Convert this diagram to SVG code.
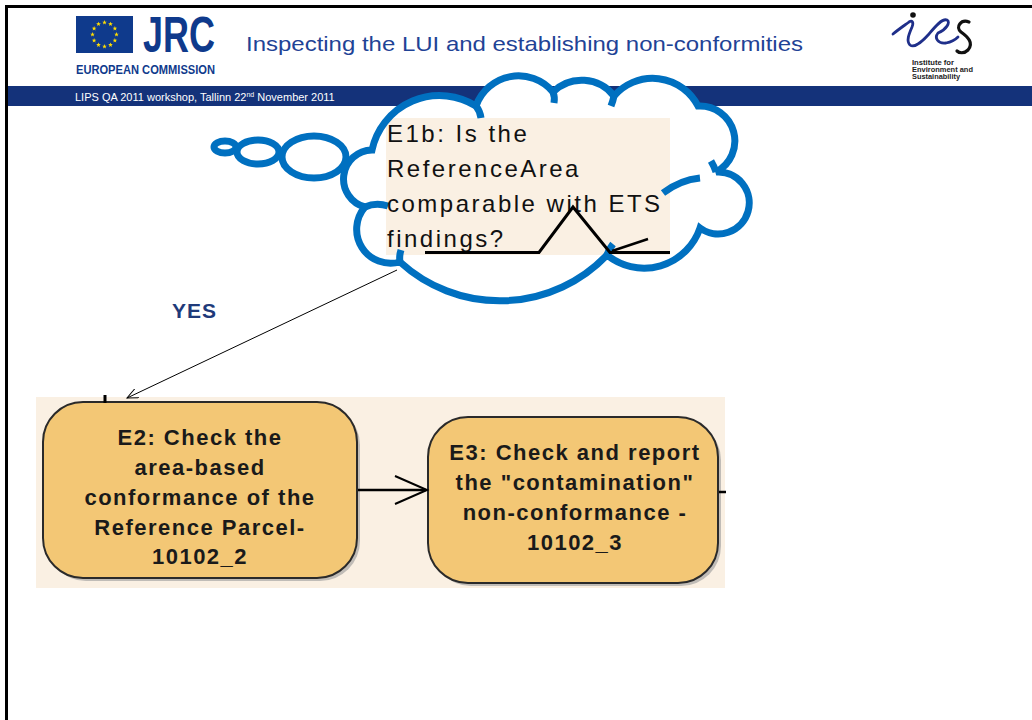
<svg xmlns="http://www.w3.org/2000/svg" width="1032" height="720" viewBox="0 0 1032 720">
  <style>
    .title { font-family: "Liberation Sans", Arial, sans-serif; font-size: 21px; fill: #1f4396; }
    .sub { font-family: "Liberation Sans", Arial, sans-serif; font-size: 11px; fill: #ffffff; }
    .brand { font-family: "Liberation Sans", Arial, sans-serif; font-weight: bold; fill: #0f3a8c; }
    .ies { font-family: "Liberation Sans", Arial, sans-serif; font-weight: bold; font-size: 7px; fill: #222; }
    .cloud { fill: none; stroke: #0070c0; stroke-width: 7; stroke-linecap: butt; }
    .q { font-family: "Liberation Sans", Arial, sans-serif; font-size: 24px; letter-spacing: 2.5px; fill: #111; }
    .yes { font-family: "Liberation Sans", Arial, sans-serif; font-weight: bold; font-size: 21px; letter-spacing: 1px; fill: #1f3a7a; }
    .box { fill: #f3c775; stroke: #2a2a2a; stroke-width: 2; }
    .shadow { fill: #9a9a9a; opacity: 0.6; }
    .lbl { font-family: "Liberation Sans", Arial, sans-serif; font-weight: bold; font-size: 22px; letter-spacing: 1.5px; fill: #1a1a1a; text-anchor: middle; }
    .wire { fill: none; stroke: #000; }
  </style>
  <defs>
    <polygon id="star" points="0,-2.4 0.65,-0.8 2.3,-0.8 1,0.3 1.4,2 0,1 -1.4,2 -1,0.3 -2.3,-0.8 -0.65,-0.8" fill="#ffdd00"/>
    <marker id="open" viewBox="0 0 12 10" refX="11" refY="5" markerWidth="12" markerHeight="10" markerUnits="userSpaceOnUse" orient="auto">
      <path d="M0,0 L11,5 L0,10" fill="none" stroke="#000" stroke-width="1"/>
    </marker>
    <path id="cloud-outline" d="M400,262 A34,34 0 0 1 365,207 A29,29 0 0 1 372,150 A69,69 0 0 1 476,106 A45,45 0 0 1 553,92 A41,41 0 0 1 614,96 A51,51 0 0 1 698,106 A35,35 0 0 1 716,172 A31,31 0 1 1 700,228 A59,59 0 0 1 607,255 A148,148 0 0 1 400,262 Z"/>
  </defs>

  <!-- slide frame -->
  <rect x="0" y="0" width="1032" height="720" fill="#ffffff"/>
  <line x1="5" y1="6.5" x2="1032" y2="6.5" stroke="#000" stroke-width="3"/>
  <line x1="6.5" y1="5" x2="6.5" y2="720" stroke="#000" stroke-width="3"/>

  <!-- header -->
  <g id="header">
    <rect x="8" y="86" width="1024" height="20" fill="#14327a"/>
    <text class="sub" x="75" y="101">LIPS QA 2011 workshop, Tallinn 22<tspan font-size="7" dy="-4">nd</tspan><tspan dy="4"> November 2011</tspan></text>
    <text class="title" x="246" y="51" textLength="557" lengthAdjust="spacingAndGlyphs">Inspecting the LUI and establishing non-conformities</text>
  </g>

  <!-- JRC logo -->
  <g id="jrc-logo">
    <rect x="76" y="16" width="57" height="37" fill="#0f3a8c"/>
    <g transform="translate(104.5 34.5)">
      <use href="#star" x="0" y="-12"/>
      <use href="#star" x="6" y="-10.4"/>
      <use href="#star" x="10.4" y="-6"/>
      <use href="#star" x="12" y="0"/>
      <use href="#star" x="10.4" y="6"/>
      <use href="#star" x="6" y="10.4"/>
      <use href="#star" x="0" y="12"/>
      <use href="#star" x="-6" y="10.4"/>
      <use href="#star" x="-10.4" y="6"/>
      <use href="#star" x="-12" y="0"/>
      <use href="#star" x="-10.4" y="-6"/>
      <use href="#star" x="-6" y="-10.4"/>
    </g>
    <text class="brand" transform="translate(143 52) scale(1 1.08)" x="0" y="0" font-size="46" textLength="72" lengthAdjust="spacingAndGlyphs">JRC</text>
    <text class="brand" x="76" y="73.5" font-size="13" textLength="139" lengthAdjust="spacingAndGlyphs">EUROPEAN COMMISSION</text>
  </g>

  <!-- IES logo -->
  <g id="ies-logo">
    <circle cx="913" cy="15" r="2.8" fill="#111"/>
    <path d="M893,34 C899,29 905,25 909,22 C912,20 914,22 912,27 C909,34 906,41 910,45 C914,48 922,42 929,34 C934,28 942,18 947,20 C951,22 946,30 938,33 C934,38 938,44 946,43 C951,42 955,40 958,37" fill="none" stroke="#1f2f8a" stroke-width="2.8" stroke-linecap="round"/>
    <path d="M969,22 C961,19 955,27 961,32 C968,37 974,43 968,50 C964,54 959,53 957,51" fill="none" stroke="#111" stroke-width="3.2" stroke-linecap="round"/>
    <text class="ies" x="912" y="65" textLength="42" lengthAdjust="spacingAndGlyphs">Institute for</text>
    <text class="ies" x="912" y="72" textLength="61" lengthAdjust="spacingAndGlyphs">Environment and</text>
    <text class="ies" x="912" y="79" textLength="48" lengthAdjust="spacingAndGlyphs">Sustainability</text>
  </g>

  <!-- thought cloud with question E1b -->
  <g id="e1b">
    <ellipse class="cloud" cx="225" cy="147" rx="11" ry="6"/>
    <ellipse class="cloud" cx="258" cy="152" rx="21" ry="12"/>
    <ellipse class="cloud" cx="314" cy="157" rx="32" ry="21"/>
    <use href="#cloud-outline" fill="#ffffff"/>
    <rect x="386" y="118" width="284" height="137" fill="#faf0e3"/>
    <use href="#cloud-outline" class="cloud"/>
    <!-- inner arcs of the cloud lobes -->
    <path class="cloud" d="M476,106 Q480,111 481,118"/>
    <path class="cloud" d="M553,92 Q555,97 554,103"/>
    <path class="cloud" d="M614,96 Q613,101 611,106"/>
    <path class="cloud" d="M716,172 Q714,166 711,161"/>
    <path class="cloud" d="M663,193 Q680,180 700,178"/>
    <path class="cloud" d="M607,255 Q609,249 613,244"/>
    <path class="cloud" d="M400,262 Q399,256 401,250"/>
    <path class="cloud" d="M365,207 Q376,202 388,206"/>
    <text class="q" x="387" y="142">E1b: Is the</text>
    <text class="q" x="387" y="177">ReferenceArea</text>
    <text class="q" x="387" y="212">comparable with ETS</text>
    <text class="q" x="387" y="247">findings?</text>
    <path d="M425,252.5 H539 L573,207 L610,252.5 H670" fill="none" stroke="#000" stroke-width="3"/>
    <line x1="612" y1="251" x2="648" y2="239" stroke="#000" stroke-width="2.5"/>
  </g>

  <!-- connector label -->
  <text class="yes" x="172" y="318">YES</text>

  <!-- process area -->
  <rect x="36" y="397" width="689" height="191" fill="#faf0e3"/>

  <g id="e2">
    <rect class="shadow" x="46" y="405" width="314" height="176" rx="40"/>
    <rect class="box" x="43" y="402" width="314" height="176" rx="40"/>
    <text class="lbl" x="200" y="445">E2: Check the</text>
    <text class="lbl" x="200" y="475">area-based</text>
    <text class="lbl" x="200" y="505">conformance of the</text>
    <text class="lbl" x="200" y="535">Reference Parcel-</text>
    <text class="lbl" x="200" y="564">10102_2</text>
  </g>

  <g id="e3">
    <rect class="shadow" x="431" y="420" width="290" height="166" rx="40"/>
    <rect class="box" x="428" y="417" width="290" height="166" rx="40"/>
    <text class="lbl" x="575" y="460">E3: Check and report</text>
    <text class="lbl" x="575" y="490">the "contamination"</text>
    <text class="lbl" x="575" y="520">non-conformance -</text>
    <text class="lbl" x="575" y="550">10102_3</text>
  </g>

  <g id="connectors">
    <line class="wire" x1="397" y1="270" x2="127" y2="398" stroke-width="1" marker-end="url(#open)"/>
    <line class="wire" x1="105" y1="395" x2="105" y2="403" stroke-width="3"/>
    <line class="wire" x1="358" y1="490" x2="426" y2="490" stroke-width="2.5"/>
    <path class="wire" d="M395,476 L427,490 L395,504" stroke-width="2"/>
    <line class="wire" x1="719" y1="492" x2="726" y2="492" stroke-width="2.5"/>
  </g>
</svg>
